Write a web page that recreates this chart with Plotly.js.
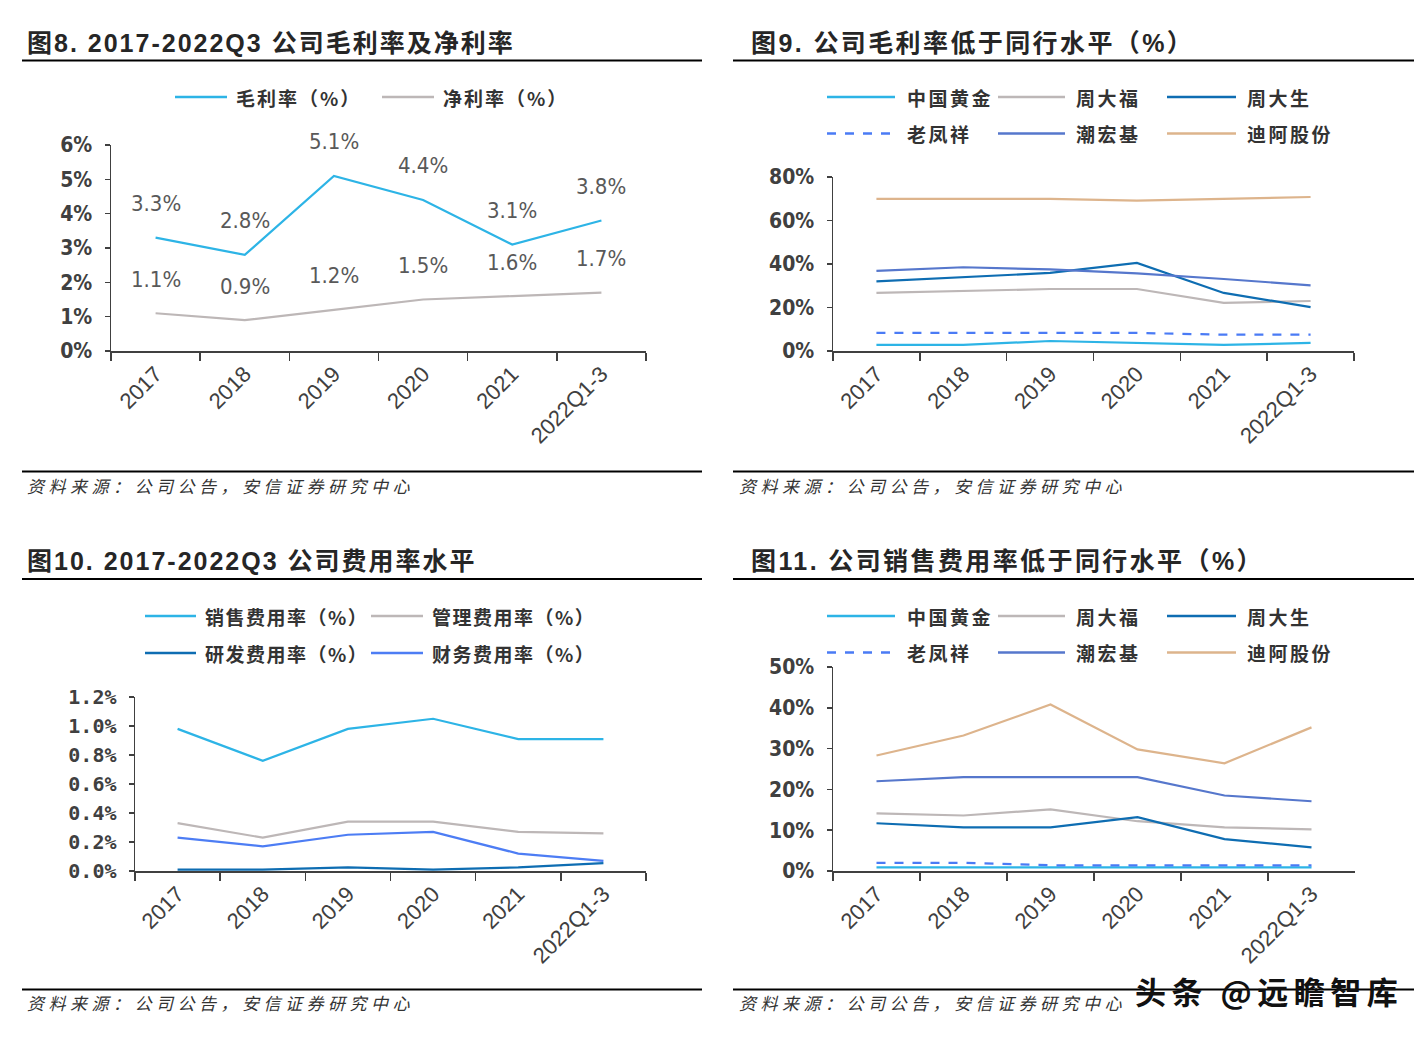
<!DOCTYPE html>
<html><head><meta charset="utf-8">
<script src="https://cdn.plot.ly/plotly-3.0.1.min.js"></script>
<style>html,body{margin:0;padding:0;background:#fff;} #chart{width:1424px;height:1040px;}</style>
</head><body><div id="chart"></div>
<script>
// ---------- data ----------
const categories = ['2017','2018','2019','2020','2021','2022Q1-3'];

// Fig 8: gross / net margin (%)
const fig8Title = '图8. 2017-2022Q3 公司毛利率及净利率';
const fig8Names = ['毛利率（%）','净利率（%）'];
const grossMargin = [3.3, 2.8, 5.1, 4.4, 3.1, 3.8];
const netMargin = [1.1, 0.9, 1.2, 1.5, 1.6, 1.7];

// Fig 9: peer gross margin (%)
const fig9Title = '图9. 公司毛利率低于同行水平（%）';
const peerNames = ['中国黄金','周大福','周大生','老凤祥','潮宏基','迪阿股份'];
const gmChinaGold = [2.8, 2.8, 4.6, 3.7, 2.8, 3.7];
const gmChowTaiFook = [26.7, 27.6, 28.5, 28.5, 22.1, 23.0];
const gmChowTaiSeng = [32.0, 33.9, 35.9, 40.5, 26.7, 20.2];
const gmLaoFengXiang = [8.3, 8.3, 8.3, 8.3, 7.5, 7.5];
const gmChjJewellery = [36.8, 38.5, 37.5, 35.7, 33.1, 30.2];
const gmDrCorp = [69.9, 69.9, 69.9, 69.1, 69.8, 70.8];

// Fig 10: expense ratios (%)
const fig10Title = '图10. 2017-2022Q3 公司费用率水平';
const fig10Names = ['销售费用率（%）','管理费用率（%）','研发费用率（%）','财务费用率（%）'];
const sellingRatio = [0.98, 0.76, 0.98, 1.05, 0.91, 0.91];
const adminRatio = [0.33, 0.23, 0.34, 0.34, 0.27, 0.26];
const rdRatio = [0.01, 0.01, 0.025, 0.01, 0.025, 0.055];
const financeRatio = [0.23, 0.17, 0.25, 0.27, 0.12, 0.07];

// Fig 11: peer selling expense ratio (%)
const fig11Title = '图11. 公司销售费用率低于同行水平（%）';
const seChinaGold = [0.9, 0.9, 0.9, 0.9, 0.9, 0.9];
const seChowTaiFook = [14.1, 13.6, 15.1, 12.2, 10.7, 10.2];
const seChowTaiSeng = [11.7, 10.7, 10.7, 13.2, 7.8, 5.8];
const seLaoFengXiang = [2.0, 2.0, 1.4, 1.4, 1.4, 1.4];
const seChjJewellery = [22.0, 23.0, 23.0, 23.0, 18.5, 17.1];
const seDrCorp = [28.3, 33.2, 40.8, 29.8, 26.4, 35.2];

const sourceText = '资料来源：公司公告，安信证券研究中心';
const watermark = '头条 @远瞻智库';

// ---------- style ----------
const W = 1424, H = 1040;
const px = x => x / W, py = y => 1 - y / H;
const C_LIGHT = '#2DB4E6', C_GRAY = '#BDB7B7', C_DARK = '#0E6DB2', C_DASH = '#4A7BF5', C_MID = '#5677CC', C_TAN = '#DDB48C', C_FIN = '#4D7DF4';
const peerColors = [C_LIGHT, C_GRAY, C_DARK, C_DASH, C_MID, C_TAN];
const peerDash = ['solid','solid','solid','dash','solid','solid'];
const AXC = '#404040';
const CJK = 'Noto Sans CJK SC';
const NARROW = 'Liberation Sans Narrow, DejaVu Sans Condensed, Liberation Sans, Arial';

function line(xax, yax, y, color, dash, name) {
  return {type:'scatter', mode:'lines', x:categories, y:y, xaxis:xax, yaxis:yax, name:name,
    line:{color:color, width:2.2, dash:dash||'solid'}, showlegend:false, hoverinfo:'skip'};
}

const traces = [
  line('x','y', grossMargin, C_LIGHT, 'solid', fig8Names[0]),
  line('x','y', netMargin, C_GRAY, 'solid', fig8Names[1]),
];
[gmChinaGold, gmChowTaiFook, gmChowTaiSeng, gmLaoFengXiang, gmChjJewellery, gmDrCorp].forEach((s,i)=>
  traces.push(line('x2','y2', s, peerColors[i], peerDash[i], peerNames[i])));
const f10Colors = [C_LIGHT, C_GRAY, C_DARK, C_FIN];
[sellingRatio, adminRatio, rdRatio, financeRatio].forEach((s,i)=>
  traces.push(line('x3','y3', s, f10Colors[i], 'solid', fig10Names[i])));
[seChinaGold, seChowTaiFook, seChowTaiSeng, seLaoFengXiang, seChjJewellery, seDrCorp].forEach((s,i)=>
  traces.push(line('x4','y4', s, peerColors[i], peerDash[i], peerNames[i])));

function xax(x0, x1, anchor) {
  return {domain:[px(x0), px(x1)], anchor:anchor, type:'category', tickson:'boundaries',
    categoryorder:'array', categoryarray:categories, range:[-0.5, categories.length - 0.5], autorange:false,
    ticks:'outside', ticklen:8, tickwidth:1.5, tickcolor:AXC, showline:true, linecolor:AXC, linewidth:1.5,
    showgrid:false, zeroline:false, tickangle:-45, fixedrange:true,
    tickfont:{family:'Liberation Sans, Arial', size:22, color:AXC}};
}
function yax(yb, yt, anchor, max, dtick, font, fmt) {
  return {domain:[py(yb), py(yt)], anchor:anchor, range:[0,max], autorange:false, dtick:dtick, tick0:0,
    ticks:'outside', ticklen:5, tickwidth:1.5, tickcolor:AXC, showline:true, linecolor:AXC, linewidth:1.5,
    showgrid:false, zeroline:false, ticksuffix:'%', tickformat:fmt||'', fixedrange:true,
    ticklabelstandoff:8, tickfont:font};
}
const yFontNarrow = {family:NARROW, size:21, color:AXC, weight:'bold'};
const yFontMono = {family:'DejaVu Sans Mono', size:20, color:AXC, weight:'bold'};

const annotations = [], shapes = [];
function hline(x0, x1, y, w) {
  shapes.push({type:'line', xref:'paper', yref:'paper', x0:px(x0), x1:px(x1), y0:py(y), y1:py(y),
    line:{color:'#000', width:w}});
}
function text(x, y, t, font, xanchor) {
  annotations.push({xref:'paper', yref:'paper', x:px(x), y:py(y), text:t, showarrow:false,
    xanchor:xanchor||'left', yanchor:'middle', font:font});
}
function spaced(t, s) { return '<span style="letter-spacing:' + s + 'px">' + t + '</span>'; }
function legendItem(x1, x2, y, color, dash, tx, label, spacing) {
  shapes.push({type:'line', xref:'paper', yref:'paper', x0:px(x1), x1:px(x2), y0:py(y), y1:py(y),
    line:{color:color, width:2.5, dash:dash}});
  text(tx, y, spaced(label, spacing), {family:CJK, size:19, color:'#333', weight:'bold'});
}
const titleFont = {family:'Liberation Sans, ' + CJK, size:25, color:'#262626', weight:'bold'};
const srcFont = {family:CJK, size:17, color:'#333'};

// chart 1
text(25, 43, spaced(fig8Title, 2), titleFont);
hline(22, 702, 60.5, 2.2);
hline(22, 702, 471.5, 2);
text(25, 485, '<i>' + spaced(sourceText, 4.5) + '</i>', srcFont);
legendItem(175, 227, 97, C_LIGHT, 'solid', 234, fig8Names[0], 2);
legendItem(382, 434, 97, C_GRAY, 'solid', 441, fig8Names[1], 2);
const lblFont = {family:NARROW, size:22, color:'#595959'};
[grossMargin, netMargin].forEach(s => categories.forEach((c,i) => annotations.push({
  xref:'x', yref:'y', x:i, y:s[i], text:s[i].toFixed(1)+'%', showarrow:false, yshift:34, font:lblFont})));

// chart 2
text(749, 43, spaced(fig9Title, 2.4), titleFont);
hline(733, 1414, 60.5, 2.2);
hline(733, 1414, 471.5, 2);
text(737, 485, '<i>' + spaced(sourceText, 4.5) + '</i>', srcFont);
const legX = [[827, 895, 905], [998, 1065, 1074], [1167, 1236, 1245]];
function peerLegend(y0) {
  peerNames.forEach((n,i) => {
    const col = i % 3, row = Math.floor(i / 3);
    legendItem(legX[col][0], legX[col][1], y0 + row*36.5, peerColors[i], peerDash[i], legX[col][2], n, 2.5);
  });
}
peerLegend(97);

// chart 3
text(25, 561, spaced(fig10Title, 2), titleFont);
hline(22, 702, 579, 2.2);
hline(22, 702, 989.5, 2);
text(25, 1002, '<i>' + spaced(sourceText, 4.5) + '</i>', srcFont);
const leg10 = [[145, 196, 203, 616], [371, 423, 430, 616], [145, 196, 203, 653], [371, 423, 430, 653]];
fig10Names.forEach((n,i) => legendItem(leg10[i][0], leg10[i][1], leg10[i][3], f10Colors[i], 'solid', leg10[i][2], n, 1.5));

// chart 4
text(749, 561, spaced(fig11Title, 2.4), titleFont);
hline(733, 1414, 579, 2.2);
hline(733, 1414, 989.5, 2);
text(737, 1002, '<i>' + spaced(sourceText, 4.5) + '</i>', srcFont);
peerLegend(616);
text(1133, 990, spaced(watermark, 5.5), {family:CJK, size:31, color:'#111', weight:'bold'});

const layout = {
  width:W, height:H, margin:{l:0, r:0, t:0, b:0}, paper_bgcolor:'#fff', plot_bgcolor:'rgba(0,0,0,0)',
  showlegend:false,
  xaxis: xax(111, 646, 'y'),
  yaxis: yax(351, 145, 'x', 6, 1, yFontNarrow),
  xaxis2: xax(833, 1354, 'y2'),
  yaxis2: yax(351, 177, 'x2', 80, 20, yFontNarrow),
  xaxis3: xax(135, 646, 'y3'),
  yaxis3: yax(871, 697, 'x3', 1.2, 0.2, yFontMono, '.1f'),
  xaxis4: xax(833, 1355, 'y4'),
  yaxis4: yax(871, 667, 'x4', 50, 10, yFontNarrow),
  annotations: annotations, shapes: shapes
};
Plotly.newPlot('chart', traces, layout, {displayModeBar:false, staticPlot:true});
</script></body></html>
